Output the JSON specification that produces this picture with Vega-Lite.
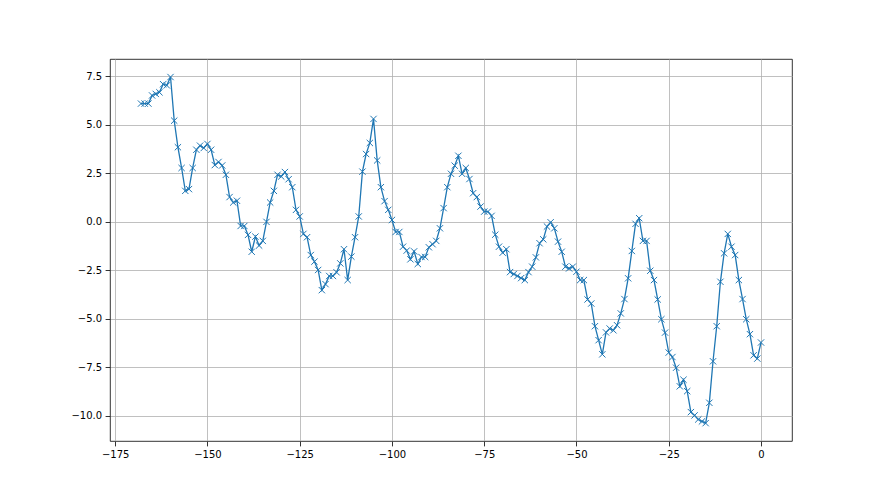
{
  "$schema": "https://vega.github.io/schema/vega-lite/v6.json",
  "width": 682,
  "height": 382,
  "autosize": {"type": "none"},
  "padding": {"left": 110, "top": 59, "right": 88, "bottom": 54},
  "background": "white",
  "config": {
    "view": {"stroke": "black", "strokeWidth": 0.8},
    "axis": {
      "labelFont": "DejaVu Sans",
      "labelFontSize": 10,
      "labelColor": "black",
      "tickColor": "black",
      "tickSize": 4.9,
      "tickWidth": 0.8,
      "labelPadding": 3.5,
      "domain": false,
      "grid": true,
      "gridColor": "#b0b0b0",
      "gridWidth": 0.8,
      "title": null
    }
  },
  "data": {
    "values": [
      {"x": -168, "y": 6.1}, {"x": -167, "y": 6.1}, {"x": -166, "y": 6.1},
      {"x": -165, "y": 6.52}, {"x": -164, "y": 6.6}, {"x": -163, "y": 6.68},
      {"x": -162, "y": 7.1}, {"x": -161, "y": 7.04}, {"x": -160, "y": 7.47},
      {"x": -159, "y": 5.22}, {"x": -158, "y": 3.85}, {"x": -157, "y": 2.78},
      {"x": -156, "y": 1.6}, {"x": -155, "y": 1.69}, {"x": -154, "y": 2.78},
      {"x": -153, "y": 3.72}, {"x": -152, "y": 3.93}, {"x": -151, "y": 3.81},
      {"x": -150, "y": 4.02}, {"x": -149, "y": 3.72}, {"x": -148, "y": 2.93},
      {"x": -147, "y": 3.09}, {"x": -146, "y": 2.91}, {"x": -145, "y": 2.43},
      {"x": -144, "y": 1.28}, {"x": -143, "y": 1.0}, {"x": -142, "y": 1.09},
      {"x": -141, "y": -0.21}, {"x": -140, "y": -0.21}, {"x": -139, "y": -0.67},
      {"x": -138, "y": -1.54}, {"x": -137, "y": -0.76}, {"x": -136, "y": -1.22},
      {"x": -135, "y": -0.98}, {"x": -134, "y": 0.0}, {"x": -133, "y": 1.0},
      {"x": -132, "y": 1.6}, {"x": -131, "y": 2.43}, {"x": -130, "y": 2.34},
      {"x": -129, "y": 2.57}, {"x": -128, "y": 2.2}, {"x": -127, "y": 1.79},
      {"x": -126, "y": 0.62}, {"x": -125, "y": 0.28}, {"x": -124, "y": -0.62},
      {"x": -123, "y": -0.79}, {"x": -122, "y": -1.71}, {"x": -121, "y": -2.05},
      {"x": -120, "y": -2.48}, {"x": -119, "y": -3.52}, {"x": -118, "y": -3.21},
      {"x": -117, "y": -2.79}, {"x": -116, "y": -2.79}, {"x": -115, "y": -2.6},
      {"x": -114, "y": -2.14}, {"x": -113, "y": -1.41}, {"x": -112, "y": -3.0},
      {"x": -111, "y": -1.79}, {"x": -110, "y": -0.79}, {"x": -109, "y": 0.28},
      {"x": -108, "y": 2.59}, {"x": -107, "y": 3.5}, {"x": -106, "y": 4.07},
      {"x": -105, "y": 5.31}, {"x": -104, "y": 3.17}, {"x": -103, "y": 1.79},
      {"x": -102, "y": 1.07}, {"x": -101, "y": 0.62}, {"x": -100, "y": 0.1},
      {"x": -99, "y": -0.52}, {"x": -98, "y": -0.52}, {"x": -97, "y": -1.28},
      {"x": -96, "y": -1.48}, {"x": -95, "y": -1.93}, {"x": -94, "y": -1.52},
      {"x": -93, "y": -2.17}, {"x": -92, "y": -1.81}, {"x": -91, "y": -1.81},
      {"x": -90, "y": -1.31}, {"x": -89, "y": -1.15}, {"x": -88, "y": -0.98},
      {"x": -87, "y": -0.33}, {"x": -86, "y": 0.71}, {"x": -85, "y": 1.79},
      {"x": -84, "y": 2.48}, {"x": -83, "y": 2.9}, {"x": -82, "y": 3.41},
      {"x": -81, "y": 2.48}, {"x": -80, "y": 2.78}, {"x": -79, "y": 2.21},
      {"x": -78, "y": 1.48}, {"x": -77, "y": 1.28}, {"x": -76, "y": 0.79},
      {"x": -75, "y": 0.53}, {"x": -74, "y": 0.53}, {"x": -73, "y": 0.31},
      {"x": -72, "y": -0.66}, {"x": -71, "y": -1.28}, {"x": -70, "y": -1.59},
      {"x": -69, "y": -1.41}, {"x": -68, "y": -2.59}, {"x": -67, "y": -2.69},
      {"x": -66, "y": -2.79}, {"x": -65, "y": -2.9}, {"x": -64, "y": -3.0},
      {"x": -63, "y": -2.59}, {"x": -62, "y": -2.31}, {"x": -61, "y": -1.83},
      {"x": -60, "y": -1.1}, {"x": -59, "y": -0.9}, {"x": -58, "y": -0.24},
      {"x": -57, "y": -0.02}, {"x": -56, "y": -0.33}, {"x": -55, "y": -1.02},
      {"x": -54, "y": -1.54}, {"x": -53, "y": -2.31}, {"x": -52, "y": -2.4},
      {"x": -51, "y": -2.31}, {"x": -50, "y": -2.57}, {"x": -49, "y": -3.0},
      {"x": -48, "y": -3.0}, {"x": -47, "y": -4.0}, {"x": -46, "y": -4.21},
      {"x": -45, "y": -5.38}, {"x": -44, "y": -6.1}, {"x": -43, "y": -6.83},
      {"x": -42, "y": -5.7}, {"x": -41, "y": -5.5}, {"x": -40, "y": -5.59},
      {"x": -39, "y": -5.33}, {"x": -38, "y": -4.72}, {"x": -37, "y": -3.98},
      {"x": -36, "y": -2.91}, {"x": -35, "y": -1.5}, {"x": -34, "y": -0.1},
      {"x": -33, "y": 0.19}, {"x": -32, "y": -0.98}, {"x": -31, "y": -0.98},
      {"x": -30, "y": -2.52}, {"x": -29, "y": -3.0}, {"x": -28, "y": -4.0},
      {"x": -27, "y": -5.02}, {"x": -26, "y": -5.71}, {"x": -25, "y": -6.74},
      {"x": -24, "y": -6.97}, {"x": -23, "y": -7.52}, {"x": -22, "y": -8.48},
      {"x": -21, "y": -8.14}, {"x": -20, "y": -8.73}, {"x": -19, "y": -9.81},
      {"x": -18, "y": -9.98}, {"x": -17, "y": -10.19}, {"x": -16, "y": -10.29},
      {"x": -15, "y": -10.38}, {"x": -14, "y": -9.33}, {"x": -13, "y": -7.19},
      {"x": -12, "y": -5.38}, {"x": -11, "y": -3.09}, {"x": -10, "y": -1.62},
      {"x": -9, "y": -0.62}, {"x": -8, "y": -1.28}, {"x": -7, "y": -1.71},
      {"x": -6, "y": -3.0}, {"x": -5, "y": -3.98}, {"x": -4, "y": -5.02},
      {"x": -3, "y": -5.79}, {"x": -2, "y": -6.88}, {"x": -1, "y": -7.05},
      {"x": 0, "y": -6.22}
    ]
  },
  "encoding": {
    "x": {
      "field": "x",
      "type": "quantitative",
      "scale": {"domain": [-176.4, 8.4], "nice": false, "zero": false},
      "axis": {"values": [-175, -150, -125, -100, -75, -50, -25, 0], "format": "d"}
    },
    "y": {
      "field": "y",
      "type": "quantitative",
      "scale": {"domain": [-11.3, 8.4], "nice": false, "zero": false},
      "axis": {"values": [-10, -7.5, -5, -2.5, 0, 2.5, 5, 7.5], "format": ".1f"}
    }
  },
  "layer": [
    {
      "mark": {"type": "line", "color": "#1f77b4", "strokeWidth": 1.3, "clip": true}
    },
    {
      "mark": {
        "type": "point",
        "shape": "M-1,-1L1,1M-1,1L1,-1",
        "filled": false,
        "stroke": "#1f77b4",
        "strokeWidth": 1,
        "size": 40,
        "opacity": 1
      }
    }
  ]
}
